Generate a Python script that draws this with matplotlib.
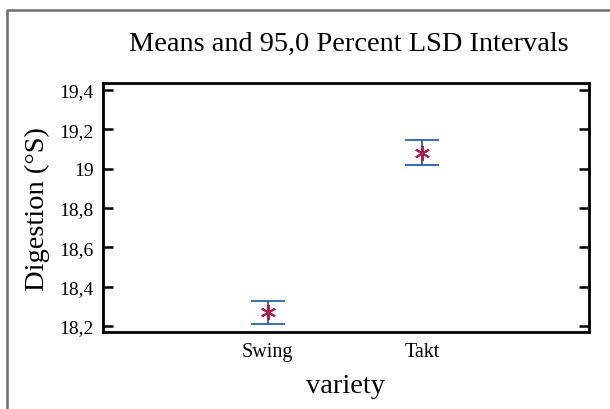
"""
means and 95,0 percent LSD intervals for digestion by variety
"""

import matplotlib
matplotlib.use("Agg")
import matplotlib.pyplot as plt
from matplotlib.lines import Line2D
from matplotlib.ticker import FuncFormatter

#data
varieties = ["Swing", "Takt"]
means = [18.27, 19.08]
lsd_low = [18.212, 19.017]
lsd_high = [18.328, 19.148]
yticks = [18.2, 18.4, 18.6, 18.8, 19.0, 19.2, 19.4]

plt.rcParams['font.family'] = ['Liberation Serif', 'DejaVu Serif']

def comma_fmt(v, pos):
    return ('%g' % round(v, 2)).replace('.', ',')

def main():
    fig = plt.figure(figsize=(6.1, 4.1), dpi=100)
    ax = fig.add_axes([102.7/610, 1-333/410, 486/610, (333-84.3)/410])

    xpos = [1, 2]
    err_lo = [m - l for m, l in zip(means, lsd_low)]
    err_hi = [h - m for m, h in zip(means, lsd_high)]
    ax.errorbar(xpos, means, yerr=[err_lo, err_hi], fmt='none',
                ecolor='#2462b4', elinewidth=1.3, capsize=12, capthick=1.3)
    ax.plot(xpos, means, linestyle='none', marker=(6, 2, 0),
            markersize=11, markeredgewidth=1.4, color='#a81e4e')

    ax.set_xlim(-0.07, 3.08)
    ax.set_ylim(18.169, 19.434)
    ax.set_xticks(xpos)
    ax.set_xticklabels(varieties, fontsize=14.5)
    ax.set_yticks(yticks)
    ax.yaxis.set_major_formatter(FuncFormatter(comma_fmt))
    ax.tick_params(axis='y', direction='in', length=7, width=1.8,
                   labelsize=14, right=True, pad=6.5)
    ax.tick_params(axis='x', length=0, pad=7)
    for s in ax.spines.values():
        s.set_linewidth(2.0)

    ax.set_xlabel("variety", fontsize=20.5, labelpad=9)
    ax.set_ylabel("Digestion (°S)", fontsize=20.5, labelpad=7)
    fig.text(349/610, 1-44/410, "Means and 95,0 Percent LSD Intervals",
             fontsize=20.4, ha='center', va='center')

    #gray frame around the plot
    x0 = 7.3/610
    y0 = 1 - 10.5/410
    fig.add_artist(Line2D([x0, x0, 1.01], [-0.01, y0, y0],
                          transform=fig.transFigure, color='#6e6e6e',
                          linewidth=1.8))

    fig.savefig("out.png", dpi=100)

if __name__ == "__main__":
    main()
